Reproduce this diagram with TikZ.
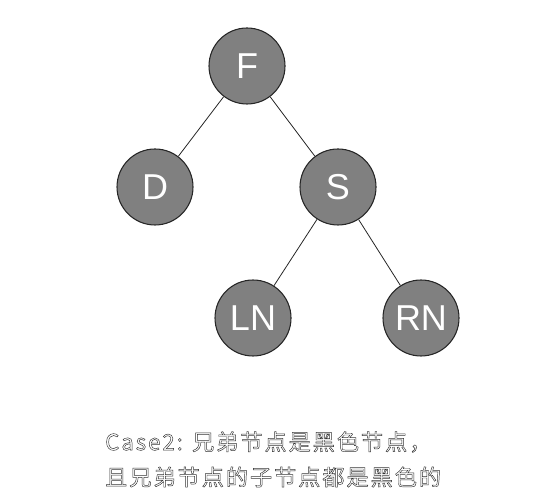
\documentclass[tikz,border=0pt]{standalone}
\usepackage{fontspec}
\setmainfont{Liberation Sans}
\newfontfamily\cjkfont[LetterSpace=9]{Noto Sans CJK SC}
\newcommand{\outlinetext}[1]{\special{pdf:code 1 Tr 0.35 w}#1\special{pdf:code 0 Tr}}
\tikzset{
  rbnode/.style={circle, fill=black!50, draw=black!85, line width=0.8pt,
    minimum size=57pt, inner sep=0pt, text=white, font=\fontsize{27}{30}\selectfont},
  edge/.style={draw=black!85, line width=0.6pt},
  caption/.style={anchor=west, inner sep=0pt, text=black!80, font=\cjkfont\fontsize{16.6}{18}\selectfont}
}
\begin{document}
\begin{tikzpicture}[x=0.75pt,y=-0.75pt]
  \useasboundingbox (0,0) rectangle (560,498);
  \node[rbnode] (F) at (247,66) {F};
  \node[rbnode] (D) at (155,187) {D};
  \node[rbnode] (S) at (338,187) {S};
  \node[rbnode] (LN) at (253,318) {LN};
  \node[rbnode] (RN) at (421,318) {RN};
  \draw[edge] (F) -- (D);
  \draw[edge] (F) -- (S);
  \draw[edge] (S) -- (LN);
  \draw[edge] (S) -- (RN);
  \node[caption] (c1) at (105,442) {\outlinetext{Case2: 兄弟节点是黑色节点，}};
  \node[caption] (c2) at (105,477) {\outlinetext{且兄弟节点的子节点都是黑色的}};
\end{tikzpicture}
\end{document}
